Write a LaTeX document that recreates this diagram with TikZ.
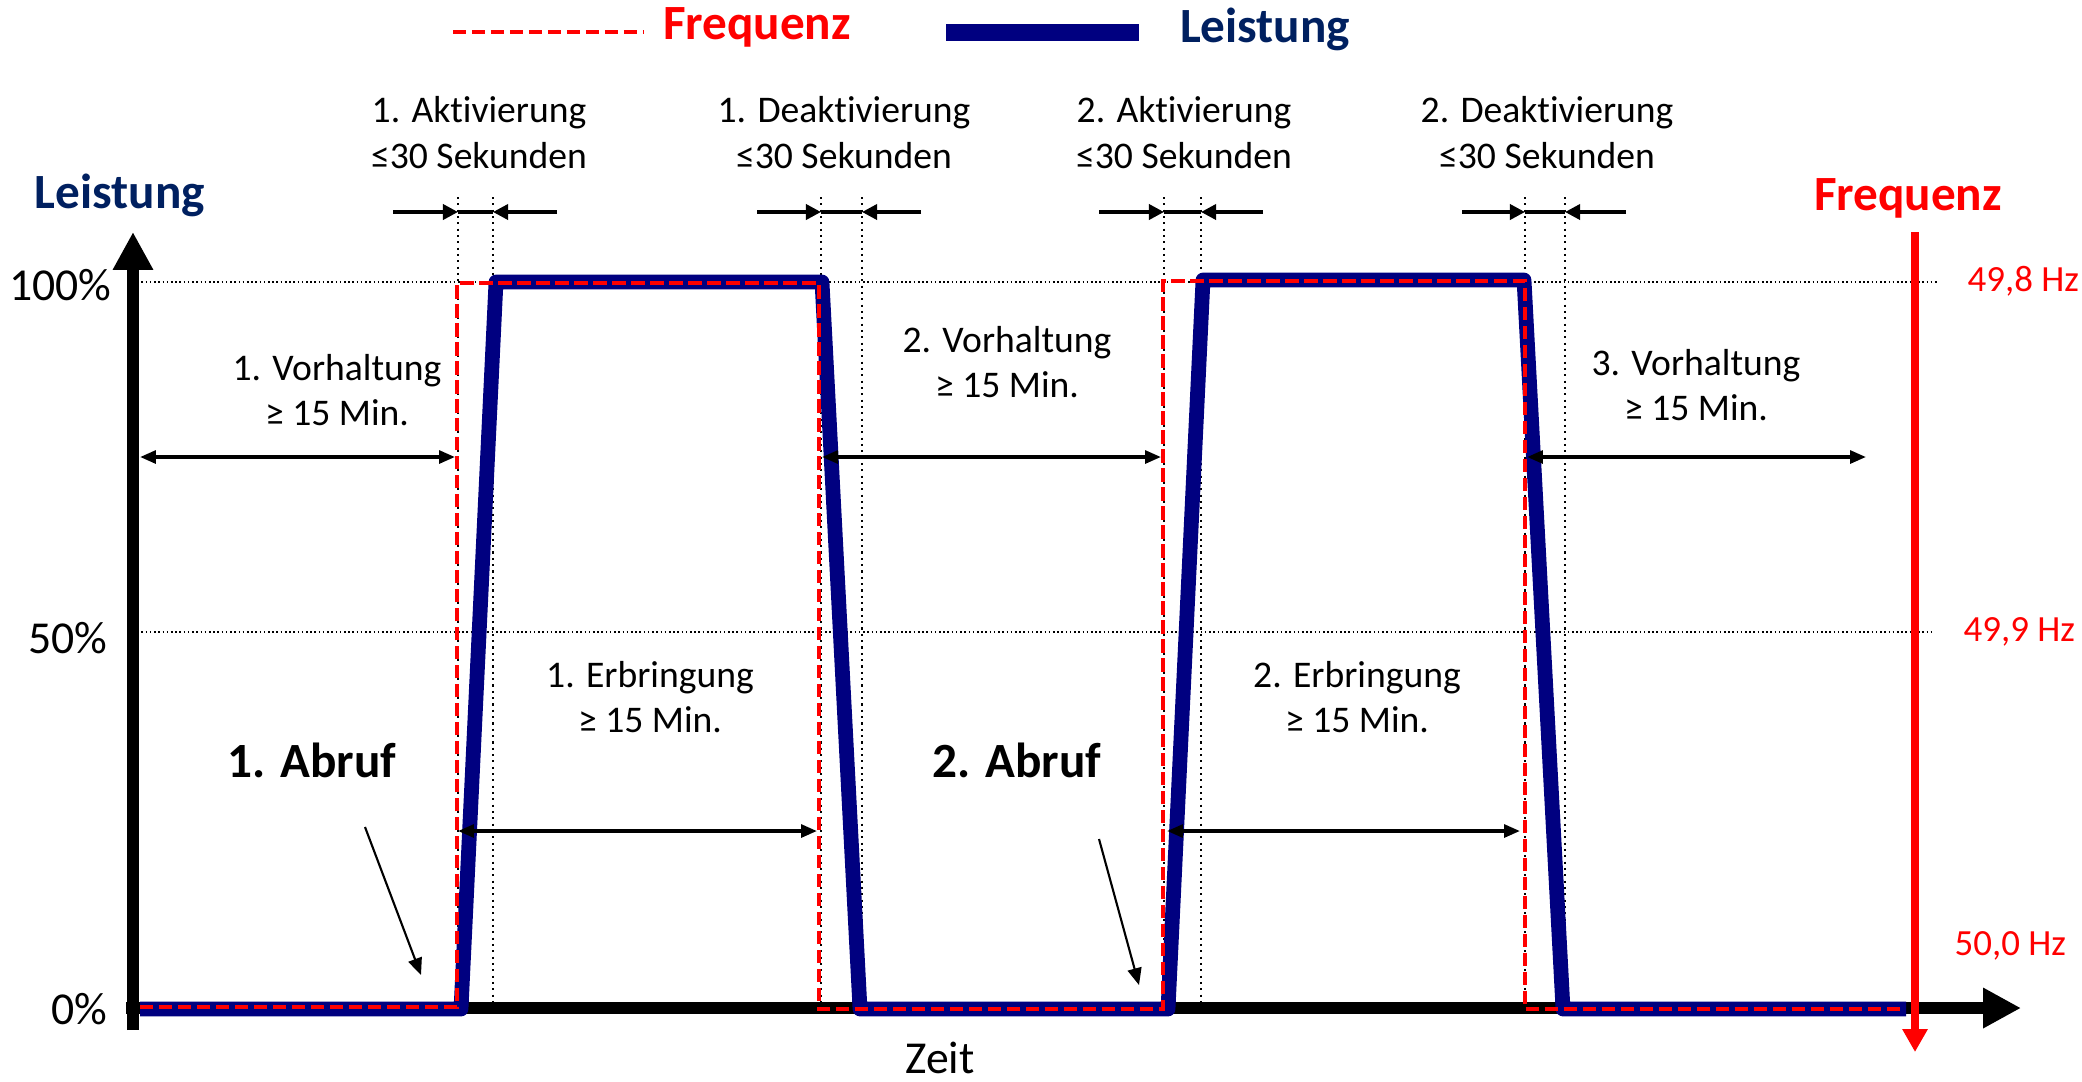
\documentclass[tikz,border=0pt]{standalone}
\usepackage{fontspec}
\setmainfont{Carlito}[Ligatures=NoCommon]
\usetikzlibrary{arrows.meta, positioning, calc}
\definecolor{navyline}{RGB}{0,0,128}
\definecolor{darkblue}{RGB}{0,32,96}
\tikzset{
    lbl/.style={font=\fontsize{10.7}{12.8}\selectfont, align=center, anchor=base, inner sep=0pt},
    hz/.style={font=\fontsize{10.5}{12}\selectfont, text=red, anchor=west, inner sep=0pt},
    pct/.style={font=\fontsize{13}{15}\selectfont, anchor=east, inner sep=0pt},
    head/.style={font=\bfseries\fontsize{14}{16}\selectfont, anchor=base, inner sep=0pt},
    gridline/.style={line width=0.45pt, dash pattern=on 0.45pt off 0.75pt},
    guide/.style={line width=0.45pt, dash pattern=on 0.6pt off 1.2pt},
    axis/.style={line width=3.2pt, -{Triangle[length=10.8pt,width=10.8pt]}},
    power/.style={draw=navyline, line width=4.2pt, line join=round},
    freq/.style={draw=red, line width=1.2pt, dash pattern=on 3.8pt off 1.6pt},
    span/.style={line width=1pt, {Triangle[length=4.5pt,width=3.6pt]}-{Triangle[length=4.5pt,width=3.6pt]}},
    ramp/.style={line width=1pt, -{Triangle[length=4.3pt,width=4.3pt]}},
    hint/.style={line width=0.6pt, -{Triangle[length=4.8pt,width=4pt]}}
}

\begin{document}
\begin{tikzpicture}[x=0.01cm, y=-0.01cm]
    \useasboundingbox (0,0) rectangle (2082,1081);

    % legend
    \draw[freq] (453,32) -- (643,32);
    \node[head, text=red] (legF) at (757,39) {Frequenz};
    \draw[navyline, line width=4.8pt] (946,32.5) -- (1139,32.5);
    \node[head, text=darkblue] (legP) at (1265,42) {Leistung};

    % grid and guides
    \draw[gridline] (133,282) -- (1937,282);
    \draw[gridline] (133,632) -- (1931,632);
    \foreach \x in {458,493,821,862,1164,1201,1525,1565}
        \draw[guide] (\x,197) -- (\x,1008);

    % ramp markers
    \foreach \a/\b/\c/\d in {393/458/493/557, 757/821/862/921, 1099/1164/1201/1263, 1462/1525/1565/1626} {
        \draw[line width=1.3pt] (\b,212) -- (\c,212);
        \draw[ramp] (\a,212) -- (\b,212);
        \draw[ramp] (\d,212) -- (\c,212);
    }

    % base is the last line
    \node[lbl] (akt1) at (479,168) {1. Aktivierung\\≤30 Sekunden};
    \node[lbl] (deakt1) at (844,168) {1. Deaktivierung\\≤30 Sekunden};
    \node[lbl] (akt2) at (1184,168) {2. Aktivierung\\≤30 Sekunden};
    \node[lbl] (deakt2) at (1547,168) {2. Deaktivierung\\≤30 Sekunden};

    % axes
    \draw[axis] (133,1030) -- (133,232);
    \draw[axis] (126,1008) -- (2021,1008);
    \node[head, text=darkblue] (ylab) at (120,208) {Leistung};
    \node[lbl, font=\fontsize{13}{15}\selectfont] (xlab) at (940,1073) {Zeit};
    \node[pct] (p100) at (112,285) {100\%};
    \node[pct] (p50) at (108,638) {50\%};
    \node[pct] (p0) at (108,1009) {0\%};

    % power and frequency
    \draw[power] (140,1009) -- (461,1009) -- (496,282) -- (822,282) -- (860,1009)
        -- (1168,1009) -- (1203,280) -- (1524,280) -- (1563,1009) -- (1906,1009);
    \draw[freq] (140,1007) -- (457,1007) -- (457,283) -- (819,283) -- (819,1009)
        -- (1163,1009) -- (1163,281) -- (1525,281) -- (1525,1009) -- (1904,1009);

    % frequency axis
    \draw[red, line width=2.2pt, -{Triangle[length=6.5pt,width=6.8pt]}] (1915,232) -- (1915,1052);
    \node[head, text=red] (flab) at (1908,210) {Frequenz};
    \node[hz] (f498) at (1967,281) {49,8 Hz};
    \node[hz] (f499) at (1963,632) {49,9 Hz};
    \node[hz] (f500) at (1954,946) {50,0 Hz};

    % spans
    \draw[span] (140,457) -- (455,457);
    \node[lbl] (vor1) at (337,425) {1. Vorhaltung\\≥ 15 Min.};
    \draw[span] (822,457) -- (1161,457);
    \node[lbl] (vor2) at (1007,397) {2. Vorhaltung\\≥ 15 Min.};
    \draw[span] (1527,457) -- (1866,457);
    \node[lbl] (vor3) at (1696,420) {3. Vorhaltung\\≥ 15 Min.};
    \draw[span] (458,831) -- (817,831);
    \node[lbl] (erb1) at (650,732) {1. Erbringung\\≥ 15 Min.};
    \draw[span] (1167,831) -- (1520,831);
    \node[lbl] (erb2) at (1357,732) {2. Erbringung\\≥ 15 Min.};

    % calls
    \node[head] (abruf1) at (312,777) {1. Abruf};
    \node[head] (abruf2) at (1017,777) {2. Abruf};
    \coordinate (tip1) at (421,975);
    \coordinate (tip2) at (1139,985);
    \draw[hint] (365,827) -- (tip1);
    \draw[hint] (1099,839) -- (tip2);
\end{tikzpicture}
\end{document}
